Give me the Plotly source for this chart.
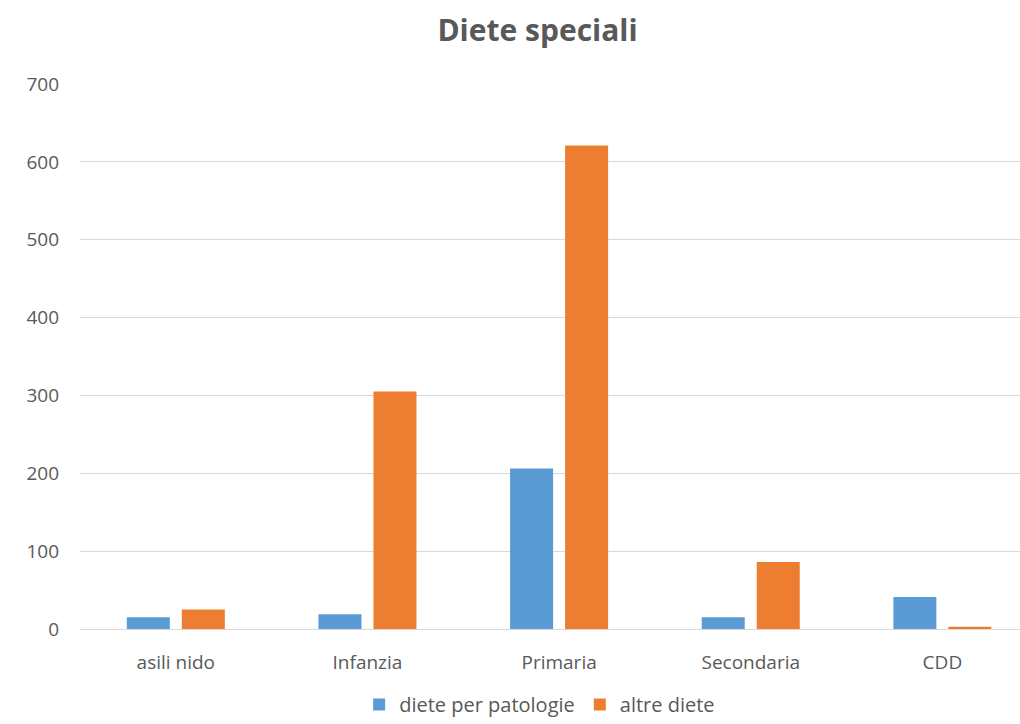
import plotly.graph_objects as go

categories = ["asili nido", "Infanzia", "Primaria", "Secondaria", "CDD"]
diete_patologie = [15, 19, 206, 15, 41]
altre_diete = [25, 305, 621, 86, 3]
y_ticks = [0, 100, 200, 300, 400, 500, 600, 700]

FONT = "Open Sans"
GREY = "#595959"

fig = go.Figure()
fig.add_trace(go.Bar(name="diete per patologie", x=categories, y=diete_patologie,
                     marker=dict(color="#5B9BD5", line=dict(width=0))))
fig.add_trace(go.Bar(name="altre diete", x=categories, y=altre_diete,
                     marker=dict(color="#ED7D31", line=dict(width=0))))

fig.update_layout(
    width=1020, height=724,
    margin=dict(l=80, r=0, t=84, b=95, autoexpand=False),
    paper_bgcolor="white", plot_bgcolor="white",
    barmode="group", bargap=0.426, bargroupgap=0.218,
    title=dict(text="<b>Diete speciali</b>", x=0.527, xanchor="center",
               yref="container", y=0.958, yanchor="middle",
               font=dict(family=FONT, size=30, color=GREY)),
    font=dict(family=FONT, size=19, color=GREY),
    xaxis=dict(range=[-0.5, 4.405], showgrid=False, showline=True, linecolor="#D9D9D9",
               linewidth=1, ticks="", tickfont=dict(size=19, color=GREY), ticklabelstandoff=16),
    yaxis=dict(range=[0, 700], tickvals=y_ticks, showgrid=True, gridcolor="#D9D9D9",
               gridwidth=1, zeroline=False, showline=False, ticks="",
               tickfont=dict(size=19, color=GREY), ticklabelstandoff=20),
    legend=dict(orientation="h", x=0.489, xanchor="center",
                yref="container", y=-0.008, yanchor="bottom",
                font=dict(size=20, color=GREY), traceorder="normal",
                itemwidth=30),
    showlegend=True,
)

fig.write_html("out.html")
